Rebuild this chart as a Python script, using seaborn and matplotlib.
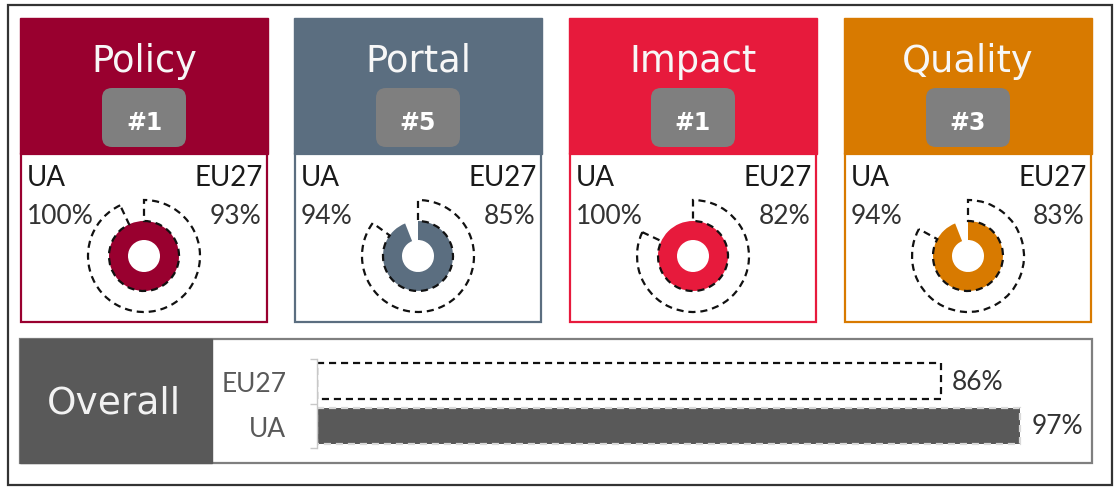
## Scorecard: four category donuts + overall bar
import pandas as pd
import seaborn as sns
import numpy as np
import matplotlib.pyplot as plt
from matplotlib.patches import Rectangle, FancyBboxPatch

# data
categories = ['Policy', 'Portal', 'Impact', 'Quality']
ranks = ['#1', '#5', '#1', '#3']
ua_scores = [100, 94, 100, 94]
eu_scores = [93, 85, 82, 83]
card_colors = ['#99002f', '#5b6e80', '#e71a3c', '#d87a00']

overall_groups = ['EU27', 'UA']
overall_scores = [86, 97]

sns.set_style("white")
plt.rcParams['font.family'] = ['DejaVu Sans']

W, H = 1115, 489
fig = plt.figure(figsize=(W / 100, H / 100), dpi=100)

# background axes in pixel coords
bg = fig.add_axes([0, 0, 1, 1])
bg.set_xlim(0, W)
bg.set_ylim(H, 0)
bg.axis('off')

bg.add_patch(Rectangle((8, 6), 1104, 480, fill=False, edgecolor='#333333', lw=1.6))

lab_font = ['Lato', 'DejaVu Sans']

card_x = [20, 294, 569, 844]
card_w = 248
for i, cat in enumerate(categories):
    x0 = card_x[i]
    col = card_colors[i]
    cx = x0 + card_w / 2
    # header
    bg.add_patch(Rectangle((x0, 19), card_w, 136, facecolor=col, edgecolor=col, lw=1))
    # body
    bg.add_patch(Rectangle((x0 + 1, 155), card_w - 2, 168, facecolor='white', edgecolor=col, lw=1.6))
    bg.text(cx, 72, cat, color='#f7f7f7', fontsize=26.5, ha='center', va='baseline')
    bg.add_patch(FancyBboxPatch((cx - 42, 89), 84, 59,
                                boxstyle='round,pad=0,rounding_size=10',
                                mutation_aspect=1, facecolor='#7f7f7f', edgecolor='none'))
    bg.text(cx, 130, ranks[i], color='white', fontsize=17, fontweight='bold',
            ha='center', va='baseline')
    bg.text(x0 + 7, 178, 'UA', fontsize=20, color='#1a1a1a', ha='left', va='center', family=lab_font)
    bg.text(x0 + card_w - 5, 178, 'EU27', fontsize=20, color='#1a1a1a', ha='right', va='center', family=lab_font)
    bg.text(x0 + 7, 216, f'{ua_scores[i]}%', fontsize=19, color='#333333', ha='left', va='center', family=lab_font)
    bg.text(x0 + card_w - 7, 216, f'{eu_scores[i]}%', fontsize=19, color='#333333', ha='right', va='center', family=lab_font)

    # donut axes, 1 data unit = 1 px
    cy = 257
    ax = fig.add_axes([(cx - 62) / W, 1 - (cy + 62) / H, 124 / W, 124 / H])
    ua = ua_scores[i]
    eu = eu_scores[i]
    ax.pie([ua, 100 - ua], radius=35, startangle=90, counterclock=False,
           colors=[col, 'none'], wedgeprops=dict(width=19, edgecolor='none'))
    w_eu, _ = ax.pie([eu, 100 - eu], radius=56, startangle=90, counterclock=False,
                     colors=['none', 'none'],
                     wedgeprops=dict(width=21, edgecolor='#111111', linewidth=1.6,
                                     linestyle=(0, (3.2, 2.2))))
    w_eu[1].set_visible(False)
    ax.set_xlim(-62, 62)
    ax.set_ylim(-62, 62)
    ax.axis('off')

# overall panel
bg.add_patch(Rectangle((20, 340), 1072, 124, facecolor='white', edgecolor='#7f7f7f', lw=1.6))
bg.add_patch(Rectangle((20, 340), 192, 124, facecolor='#595959', edgecolor='#595959', lw=1))
bg.text(114, 404, 'Overall', color='#f2f2f2', fontsize=27, ha='center', va='center')

df_overall = pd.DataFrame({'group': overall_groups, 'score': overall_scores})
bx = fig.add_axes([317 / W, 1 - 449 / H, 765 / W, 89 / H])
sns.barplot(data=df_overall, x='score', y='group', ax=bx, width=0.8,
            palette=['white', '#595959'], hue='group', legend=False)
bars = bx.patches
bars[0].set_edgecolor('#111111')
bars[0].set_linestyle((0, (3.2, 2.2)))
bars[0].set_linewidth(1.6)
bars[1].set_edgecolor('#d9d9d9')
bars[1].set_linestyle((0, (3.2, 2.2)))
bars[1].set_linewidth(1.6)
for c in bx.containers:
    bx.bar_label(c, fmt='%d%%', padding=8, fontsize=19, color='#333333', family=lab_font)

bx.set_xlim(0, 105.5)
bx.set_ylim(1.5, -0.5)
bx.set_xlabel('')
bx.set_ylabel('')
bx.set_xticks([])
bx.set_yticks([-0.5, 0.5, 1.5], minor=True)
bx.tick_params(axis='y', which='major', length=0, pad=22, labelsize=19, labelcolor='#595959')
bx.tick_params(axis='y', which='minor', length=5, width=1, color='#c8c8c8', left=True)
for lbl in bx.get_yticklabels():
    lbl.set_family(lab_font)
for s in ['top', 'right', 'bottom']:
    bx.spines[s].set_visible(False)
bx.spines['left'].set_color('#c8c8c8')
bx.spines['left'].set_linewidth(1)
bx.patch.set_alpha(0)

fig.savefig('out.png', dpi=100)
